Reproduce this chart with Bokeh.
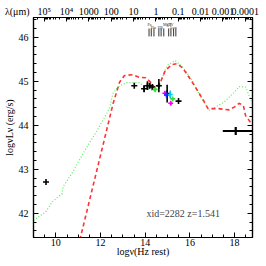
import numpy as np
from bokeh.plotting import figure
from bokeh.models import Range1d, LinearAxis, FixedTicker, Label, ColumnDataSource
from bokeh.embed import file_html
from bokeh.resources import INLINE

# ---------------- data ----------------
green_lognu = [9.0, 9.54, 9.84, 10.13, 10.27, 10.32, 10.71, 11.30, 11.89, 12.40, 12.55,
               12.78, 13.15, 13.73, 14.10, 14.39, 14.61, 14.98, 15.34, 15.68, 16.08,
               16.52, 16.88, 17.54, 17.98, 18.20, 18.49, 18.71, 18.8]
green_logL = [41.84, 42.03, 42.26, 42.39, 42.43, 42.60, 42.90, 43.43, 43.92, 44.38, 44.72,
              44.87, 44.97, 44.97, 44.83, 44.78, 44.87, 45.36, 45.47, 45.32, 45.04,
              44.60, 44.34, 44.53, 44.75, 44.88, 44.87, 44.60, 44.48]

red_lognu = [11.0, 12.11, 12.56, 12.85, 13.07, 13.44, 13.73, 14.02, 14.24, 14.46, 14.68,
             14.90, 15.20, 15.42, 15.68, 16.08, 16.52, 16.81, 17.25, 17.76, 18.0, 18.20,
             18.39, 18.49, 18.71, 18.8]
red_logL = [41.24, 43.55, 44.49, 44.98, 45.13, 45.15, 45.09, 45.08, 44.98, 44.83, 44.98,
            45.25, 45.38, 45.40, 45.30, 45.00, 44.64, 44.38, 44.38, 44.35, 44.42, 44.50,
            44.45, 44.22, 44.07, 44.03]

phot_lognu = [9.56, 13.51, 13.95, 14.10, 14.20, 14.32, 14.61, 14.98, 15.49]
phot_logL = [42.71, 44.90, 44.83, 44.90, 44.90, 44.87, 44.90, 44.72, 44.55]
phot_err = [0.0, 0.0, 0.08, 0.10, 0.06, 0.05, 0.15, 0.20, 0.0]

col_lognu = [14.44, 14.88, 14.95, 15.12, 15.14, 15.23]
col_logL = [44.81, 44.73, 44.69, 44.70, 44.50, 44.60]
col_err = [0.0, 0.0, 0.0, 0.09, 0.04, 0.0]
col_color = ["#33dd33", "#ee00ee", "#2222ff", "#00ccff", "#ff00ff", "#33dd33"]

xray_lognu = [18.05]
xray_logL = [43.87]
xray_lo = [17.47]
xray_hi = [19.2]
xray_err = [0.09]

line_lognu = [14.17, 14.27, 14.39, 14.61, 14.71, 14.83, 15.05, 15.15, 15.27, 15.37]
line_names = ["Pa", "Hα", "Hβ", "MgII", "CIV", "Lyα"]
line_name_lognu = [14.19, 14.36, 14.67, 14.98, 15.12, 15.26]
line_name_row = [0, 1, 1, 0, 0, 1]

x_ticks = [10, 12, 14, 16, 18]
y_ticks = [42, 43, 44, 45, 46]
lambda_um = [1e5, 1e4, 1000, 100, 10, 1, 0.1, 0.01, 0.001, 0.0001]
lambda_labels = ["10⁵", "10⁴", "1000", "100", "10", "1", "0.1", "0.01", "0.001", "0.0001"]
lambda_title = "λ(μm)"
info_text = "xid=2282 z=1.541"

# ---------------- figure ----------------
X0, X1, Y0, Y1 = 9.0, 18.8, 41.45, 46.45
W, H = 266, 266
FL, FR, FT, FB = 29, 252, 17, 237  # frame edges in page pixels


def px2x(px):
    return X0 + (px - FL) * (X1 - X0) / (FR - FL)


def px2y(py):
    return Y1 - (py - FT) * (Y1 - Y0) / (FB - FT)


FONT = "Liberation Serif"
FS = "10px"

p = figure(width=W, height=H, output_backend="svg", toolbar_location=None,
           x_range=Range1d(X0, X1), y_range=Range1d(Y0, Y1),
           x_axis_location=None, y_axis_location=None,
           min_border_left=FL, min_border_right=W - FR,
           min_border_top=FT, min_border_bottom=H - FB)
p.background_fill_color = "white"
p.border_fill_color = "white"
p.outline_line_color = "black"
p.outline_line_width = 1.2
for g in p.grid:
    g.visible = False


def style(ax):
    ax.axis_line_color = "black"
    ax.axis_line_width = 1.2
    ax.major_tick_in = 5
    ax.major_tick_out = 0
    ax.minor_tick_in = 3
    ax.minor_tick_out = 0
    ax.major_tick_line_color = "black"
    ax.minor_tick_line_color = "black"
    ax.major_label_text_font = FONT
    ax.major_label_text_font_size = FS
    ax.major_label_text_color = "black"
    ax.major_label_standoff = 3
    ax.axis_label_text_font = FONT
    ax.axis_label_text_font_size = FS
    ax.axis_label_text_font_style = "normal"
    ax.axis_label_text_color = "black"
    ax.axis_label_standoff = 0


xminor = [float(v) for v in np.arange(9.0, 19.01, 0.5)]
bottom = LinearAxis(ticker=FixedTicker(ticks=x_ticks, minor_ticks=xminor),
                    axis_label="logν(Hz rest)")
style(bottom)
bottom.major_label_standoff = 1
bottom.axis_label_standoff = -3
p.add_layout(bottom, "below")

yminor = [float(v) for v in np.round(np.arange(41.4, 46.61, 0.2), 2)]
left = LinearAxis(ticker=FixedTicker(ticks=y_ticks, minor_ticks=yminor),
                  axis_label="logνLν (erg/s)")
style(left)
left.major_label_standoff = 5
left.axis_label_standoff = 1
p.add_layout(left, "left")

right = LinearAxis(ticker=FixedTicker(ticks=y_ticks, minor_ticks=yminor),
                   major_label_overrides={t: "" for t in y_ticks})
style(right)
right.major_label_standoff = 0
p.add_layout(right, "right")

C_UM = 2.998e14
top_ticks = [float(np.log10(C_UM / l)) for l in lambda_um]
top_minor = [float(np.log10(C_UM / (m * 10.0 ** k))) for k in range(-5, 6) for m in range(2, 10)]
# the wavelength-axis title sits at the frame's left corner, right-padded with no-break spaces
title_tick = X0 + 0.001
top_overrides = {t: s for t, s in zip(top_ticks, lambda_labels)}
top_overrides[title_tick] = lambda_title + "\u00a0" * 13
top = LinearAxis(ticker=FixedTicker(ticks=[title_tick] + top_ticks, minor_ticks=top_minor),
                 major_label_overrides=top_overrides)
style(top)
top.major_tick_in = 4
top.minor_tick_in = 2
top.major_label_standoff = 1
p.add_layout(top, "above")

# ---------------- curves ----------------
p.line(green_lognu, green_logL, line_color="#55ee55", line_width=1.2, line_dash="1 2")
p.line(red_lognu, red_logL, line_color="#ff3333", line_width=1.6, line_dash="4 3")

# ---------------- photometry ----------------
ps = ColumnDataSource(dict(x=phot_lognu, y=phot_logL,
                           lo=[a - b for a, b in zip(phot_logL, phot_err)],
                           hi=[a + b for a, b in zip(phot_logL, phot_err)]))
p.segment(x0="x", x1="x", y0="lo", y1="hi", source=ps, line_color="black", line_width=1.6)
p.scatter(x="x", y="y", source=ps, marker="cross", size=6, line_color="black", line_width=1.6)

cs = ColumnDataSource(dict(x=col_lognu, y=col_logL, c=col_color,
                           lo=[a - b for a, b in zip(col_logL, col_err)],
                           hi=[a + b for a, b in zip(col_logL, col_err)]))
p.segment(x0="x", x1="x", y0="lo", y1="hi", source=cs, line_color="c", line_width=1.6)
p.scatter(x="x", y="y", source=cs, marker="cross", size=5, line_color="c", line_width=1.6)

# X-ray
p.segment(x0=xray_lo, x1=xray_hi, y0=xray_logL, y1=xray_logL, line_color="black", line_width=2.2)
p.segment(x0=xray_lognu, x1=xray_lognu,
          y0=[a - b for a, b in zip(xray_logL, xray_err)],
          y1=[a + b for a, b in zip(xray_logL, xray_err)], line_color="black", line_width=2.2)

# emission-line markers
p.segment(x0=line_lognu, x1=line_lognu, y0=[46.02] * len(line_lognu), y1=[46.2] * len(line_lognu),
          line_color="#333333", line_width=1)
for nm, lx, row in zip(line_names, line_name_lognu, line_name_row):
    p.add_layout(Label(x=lx, y=46.3 - 0.07 * row, text=nm, text_font=FONT,
                       text_font_size="4px", text_align="center", text_baseline="middle",
                       text_color="#333333"))

# ---------------- texts ----------------
p.add_layout(Label(x=px2x(144), y=px2y(213), text=info_text, text_font=FONT,
                   text_font_size=FS, text_baseline="middle", text_align="left"))

open("out.html", "w").write(file_html(p, INLINE))
